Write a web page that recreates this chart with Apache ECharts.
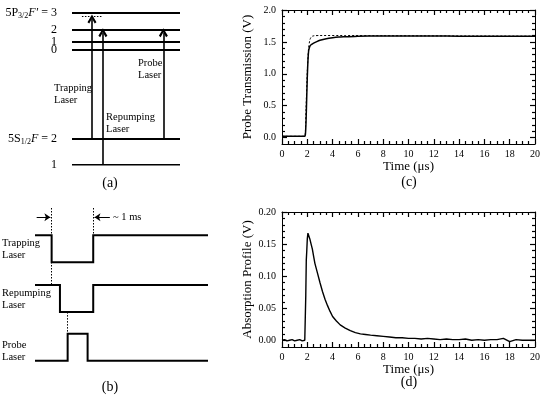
<!DOCTYPE html>
<html>

<head>
	<meta charset="UTF-8">
	<title></title>
	<style>
		html, body { margin: 0; padding: 0; background: #fff; }
		#chart1 { width: 543px; height: 400px; }
	</style>
	<script src="https://cdn.jsdelivr.net/npm/echarts@6/dist/echarts.min.js"></script>
</head>

<body>
	<div id="chart1"></div>
	<script>
		var FONT = 'Liberation Serif';

		// (a) energy levels, arbitrary energy units (bottom level = 0)
		var levelE = [100, 89, 80.8, 75.8, 16.8, 0];
		var levelLabels = ['{r|5P}{s|3/2}{i|F\u2032}{r| = 3}', '2', '1', '0', '{r|5S}{s|1/2}{i|F}{r| = 2}', '1'];
		var virtualE = 98;                 // dashed level under F'=3
		var virtualX = [9.2, 28.6];
		var laserNames = ['Trapping', 'Repumping', 'Probe'];
		var laserX = [18.5, 28.6, 84.6];
		var laserFrom = [16.8, 0, 16.8];
		var laserTo = [98, 89, 89];

		// (b) timing, t in ms (trapping laser switched off at t = 0)
		var chNames = ['Trapping', 'Repumping', 'Probe'];
		var chOffset = [3.65, 1.8, 0];
		var chTimes = [
			[-0.4, 0, 0, 1, 1, 3.76],
			[-0.4, 0.2, 0.2, 1, 1, 3.76],
			[-0.4, 0.385, 0.385, 0.865, 0.865, 3.76]
		];
		var chStates = [
			[1, 1, 0, 0, 1, 1],
			[1, 1, 0, 0, 1, 1],
			[0, 0, 1, 1, 0, 0]
		];

		// (c) probe transmission (V) vs time (us)
		var tC = [0, 1, 1.7, 1.8, 1.85, 1.9, 1.95, 2.0, 2.05, 2.1, 2.15, 2.2, 2.3, 2.5, 2.75, 3, 3.5, 4, 4.5, 5, 6, 7, 8, 10, 12, 14, 16, 18, 20];
		var transC = [0.02, 0.02, 0.02, 0.02, 0.05, 0.25, 0.6, 0.95, 1.2, 1.35, 1.40, 1.43, 1.455, 1.48, 1.505, 1.525, 1.55, 1.565, 1.575, 1.58, 1.59, 1.592, 1.593, 1.593, 1.592, 1.59, 1.59, 1.589, 1.588];
		var tFit = [0, 1.8, 1.85, 1.9, 2.0, 2.1, 2.2, 2.3, 2.4, 2.6, 3, 5, 8, 20];
		var transFit = [0.02, 0.02, 0.1, 0.45, 1.05, 1.4, 1.53, 1.575, 1.59, 1.598, 1.6, 1.6, 1.597, 1.59];

		// (d) absorption profile (V) vs time (us)
		var tD = [0, 0.2, 0.4, 0.6, 0.8, 1.0, 1.2, 1.4, 1.6, 1.8, 1.85, 1.88, 1.92, 1.96, 2.0, 2.05, 2.1, 2.2, 2.3, 2.4, 2.5, 2.6, 2.8, 3.0, 3.2, 3.4, 3.6, 3.8, 4.0, 4.3, 4.6, 5.0, 5.4, 5.8, 6.2, 6.6, 7.0, 7.5, 8.0, 8.5, 9.0, 9.5, 10, 10.5, 11, 11.5, 12, 12.5, 13, 13.5, 14, 14.5, 15, 15.5, 16, 16.5, 17, 17.5, 18, 18.5, 19, 19.5, 20];
		var absD = [0.000, 0.001, -0.001, 0.000, 0.001, -0.001, 0.000, 0.001, -0.001, 0.000, 0.002, 0.07, 0.125, 0.14, 0.158, 0.167, 0.164, 0.158, 0.150, 0.142, 0.131, 0.120, 0.105, 0.090, 0.076, 0.064, 0.054, 0.045, 0.037, 0.030, 0.024, 0.019, 0.015, 0.012, 0.010, 0.009, 0.008, 0.007, 0.006, 0.005, 0.004, 0.004, 0.003, 0.003, 0.002, 0.003, 0.002, 0.001, 0.002, 0.001, 0.001, 0.002, 0.000, 0.001, 0.000, 0.001, 0.001, 0.003, -0.002, 0.001, 0.000, 0.000, 0.000];

		var timeTicks = [0, 2, 4, 6, 8, 10, 12, 14, 16, 18, 20];
		var transTicks = [0, 0.5, 1.0, 1.5, 2.0];
		var absTicks = [0, 0.05, 0.10, 0.15, 0.20];

		function pairs(xs, ys) {
			return xs.map(function (x, i) { return [x, ys[i]]; });
		}
		function steps(from, to, step) {
			var out = [];
			for (var v = from; v <= to + 1e-9; v += step) out.push(+v.toFixed(4));
			return out;
		}
		function isMajor(list, v) {
			return list.some(function (m) { return Math.abs(m - v) < 1e-6; });
		}

		var chevron = 'path://M5,0 L10,8 L8,9.5 L5,4.2 L2,9.5 L0,8 Z';
		var axisFont = { fontFamily: FONT, fontSize: 10, color: '#000' };
		var nameFont = { fontFamily: FONT, fontSize: 13, color: '#000' };

		function hiddenAxis(grid, min, max) {
			return { gridIndex: grid, type: 'value', min: min, max: max, show: false };
		}

		// framed axes of panels (c) and (d); ticks are drawn by tickLines below
		function frameX(grid, pos, show) {
			return {
				gridIndex: grid, type: 'value', min: 0, max: 20, position: pos,
				axisLine: { show: true, onZero: false, lineStyle: { color: '#000', width: 1 } },
				axisTick: { show: false },
				axisLabel: Object.assign({ show: show, customValues: timeTicks, margin: 5 }, axisFont),
				splitLine: { show: false },
				name: show ? 'Time (\u03bcs)' : '', nameLocation: 'middle', nameGap: 15,
				nameTextStyle: nameFont
			};
		}
		function frameY(grid, pos, show, min, max, ticks, dec, name) {
			return {
				gridIndex: grid, type: 'value', min: min, max: max, position: pos,
				axisLine: { show: true, onZero: false, lineStyle: { color: '#000', width: 1 } },
				axisTick: { show: false },
				axisLabel: Object.assign({
					show: show, customValues: ticks, margin: 6,
					formatter: function (v) { return v.toFixed(dec); }
				}, axisFont),
				splitLine: { show: false },
				name: show ? name : '', nameLocation: 'middle', nameGap: 28,
				nameTextStyle: nameFont
			};
		}

		// inward ticks on all four sides; w, h = plot size in px to turn tick length into axis units
		function tickLines(xi, yi, xr, yr, w, h, xMajor, xStep, yMajor, yStep) {
			var ux = (xr[1] - xr[0]) / w, uy = (yr[1] - yr[0]) / h, data = [];
			steps(xr[0], xr[1], xStep).forEach(function (v) {
				var len = (isMajor(xMajor, v) ? 5 : 3) * uy;
				data.push({ coords: [[v, yr[0]], [v, yr[0] + len]] });
				data.push({ coords: [[v, yr[1]], [v, yr[1] - len]] });
			});
			steps(0, yMajor[yMajor.length - 1], yStep).forEach(function (v) {
				var len = (isMajor(yMajor, v) ? 5 : 3) * ux;
				data.push({ coords: [[xr[0], v], [xr[0] + len, v]] });
				data.push({ coords: [[xr[1], v], [xr[1] - len, v]] });
			});
			return {
				type: 'lines', coordinateSystem: 'cartesian2d', xAxisIndex: xi, yAxisIndex: yi, silent: true,
				clip: false, z: 10, large: false,
				lineStyle: { color: '#000', width: 1.2, opacity: 1 },
				data: data
			};
		}

		var levelAxis = {
			gridIndex: 0, type: 'value', min: 0, max: 100,
			axisLine: { show: false }, axisTick: { show: false }, splitLine: { show: false },
			axisLabel: {
				customValues: levelE, margin: 15, fontFamily: FONT, fontSize: 12, color: '#000',
				formatter: function (v) {
					var l = levelLabels[levelE.indexOf(v)];
					return l.indexOf('{') === 0 ? l : '{r|' + l + '}';
				},
				rich: {
					r: { fontFamily: FONT, fontSize: 12, color: '#000' },
					s: { fontFamily: FONT, fontSize: 8, color: '#000', padding: [6, 0, 0, 0] },
					i: { fontFamily: FONT, fontSize: 12, fontStyle: 'italic', color: '#000' }
				}
			}
		};

		var series = [
			// (a)
			{
				type: 'lines', coordinateSystem: 'cartesian2d', xAxisIndex: 0, yAxisIndex: 0, silent: true,
				lineStyle: { color: '#000', width: 2.2, opacity: 1 },
				data: levelE.map(function (e) { return { coords: [[0, e], [100, e]] }; })
			},
			{
				type: 'lines', coordinateSystem: 'cartesian2d', xAxisIndex: 0, yAxisIndex: 0, silent: true,
				lineStyle: { color: '#000', width: 1, type: [1.5, 1.5], opacity: 1 },
				data: [{ coords: [[virtualX[0], virtualE], [virtualX[1], virtualE]] }]
			},
			{
				type: 'lines', coordinateSystem: 'cartesian2d', xAxisIndex: 0, yAxisIndex: 0, silent: true,
				symbol: ['none', chevron], symbolSize: [10, 9],
				lineStyle: { color: '#000', width: 1.6, opacity: 1 },
				data: laserX.map(function (x, i) { return { name: laserNames[i], coords: [[x, laserFrom[i]], [x, laserTo[i] - 2]] }; })
			},
			// (b)
			{
				type: 'lines', coordinateSystem: 'cartesian2d', xAxisIndex: 1, yAxisIndex: 1, silent: true, polyline: true,
				lineStyle: { color: '#000', width: 2, opacity: 1 },
				data: chTimes.map(function (ts, c) {
					return { name: chNames[c], coords: ts.map(function (t, i) { return [t, chOffset[c] + chStates[c][i]]; }) };
				})
			},
			{
				type: 'lines', coordinateSystem: 'cartesian2d', xAxisIndex: 1, yAxisIndex: 1, silent: true,
				lineStyle: { color: '#000', width: 1, type: [1.5, 1.5], opacity: 1 },
				data: [
					{ coords: [[0, 5.655], [0, chOffset[1] + 1]] },
					{ coords: [[1, 5.655], [1, chOffset[0] + 1]] },
					{ coords: [[0.385, chOffset[1]], [0.385, chOffset[2] + 1]] }
				]
			},
			{
				type: 'lines', coordinateSystem: 'cartesian2d', xAxisIndex: 1, yAxisIndex: 1, silent: true,
				symbol: ['none', 'arrow'], symbolSize: 6,
				lineStyle: { color: '#000', width: 1, opacity: 1 },
				data: [
					{ coords: [[-0.36, 5.31], [-0.03, 5.31]] },
					{ coords: [[1.4, 5.31], [1.03, 5.31]] }
				]
			},
			// (c)
			{
				name: 'measured', type: 'line', xAxisIndex: 2, yAxisIndex: 2, showSymbol: false, smooth: 0.2,
				lineStyle: { color: '#000', width: 1.5 }, data: pairs(tC, transC)
			},
			{
				name: 'fit', type: 'line', xAxisIndex: 2, yAxisIndex: 2, showSymbol: false, smooth: 0.2,
				lineStyle: { color: '#000', width: 1, type: [2, 2] }, data: pairs(tFit, transFit)
			},
			tickLines(2, 2, [0, 20], [-0.1, 2.0], 254, 134, timeTicks, 0.5, transTicks, 0.1),
			// (d)
			{
				name: 'absorption', type: 'line', xAxisIndex: 4, yAxisIndex: 4, showSymbol: false,
				lineStyle: { color: '#000', width: 1.4 }, data: pairs(tD, absD)
			},
			tickLines(4, 4, [0, 20], [-0.0105, 0.2], 254, 135, timeTicks, 0.5, absTicks, 0.01)
		];

		function label(text, x, y, align, size) {
			return {
				type: 'text', x: x, y: y, silent: true,
				style: { text: text, font: (size || 10.5) + 'px "' + FONT + '"', fill: '#000', align: align || 'left', verticalAlign: 'middle', lineHeight: 11.5 }
			};
		}

		var myChart = echarts.init(document.getElementById('chart1'));
		myChart.setOption({
			animation: false,
			backgroundColor: '#fff',
			grid: [
				{ left: 72, top: 13, width: 108, height: 151.4 },
				{ left: 35, top: 208, width: 173, height: 158.1 },
				{ left: 282, top: 10, width: 254, height: 134 },
				{ left: 282, top: 212, width: 254, height: 135 }
			],
			xAxis: [
				hiddenAxis(0, 0, 100),
				hiddenAxis(1, -0.4, 3.76),
				frameX(2, 'bottom', true),
				frameX(2, 'top', false),
				frameX(3, 'bottom', true),
				frameX(3, 'top', false)
			],
			yAxis: [
				levelAxis,
				hiddenAxis(1, -0.2, 5.655),
				frameY(2, 'left', true, -0.1, 2.0, transTicks, 1, 'Probe Transmission (V)'),
				frameY(2, 'right', false, -0.1, 2.0, transTicks, 1, ''),
				frameY(3, 'left', true, -0.0105, 0.2, absTicks, 2, 'Absorption Profile (V)'),
				frameY(3, 'right', false, -0.0105, 0.2, absTicks, 2, '')
			],
			series: series,
			graphic: [
				label(laserNames[0] + '\nLaser', 54, 94),
				label(laserNames[1] + '\nLaser', 106, 123),
				label(laserNames[2] + '\nLaser', 138, 69),
				label('(a)', 110, 183, 'center', 14),
				label(chNames[0] + '\nLaser', 2, 249),
				label(chNames[1] + '\nLaser', 2, 299),
				label(chNames[2] + '\nLaser', 2, 351),
				label('~ 1 ms', 113, 217),
				label('(b)', 110, 387, 'center', 14),
				label('(c)', 409, 182, 'center', 14),
				label('(d)', 409, 382, 'center', 14)
			]
		});
	</script>
</body>

</html>
